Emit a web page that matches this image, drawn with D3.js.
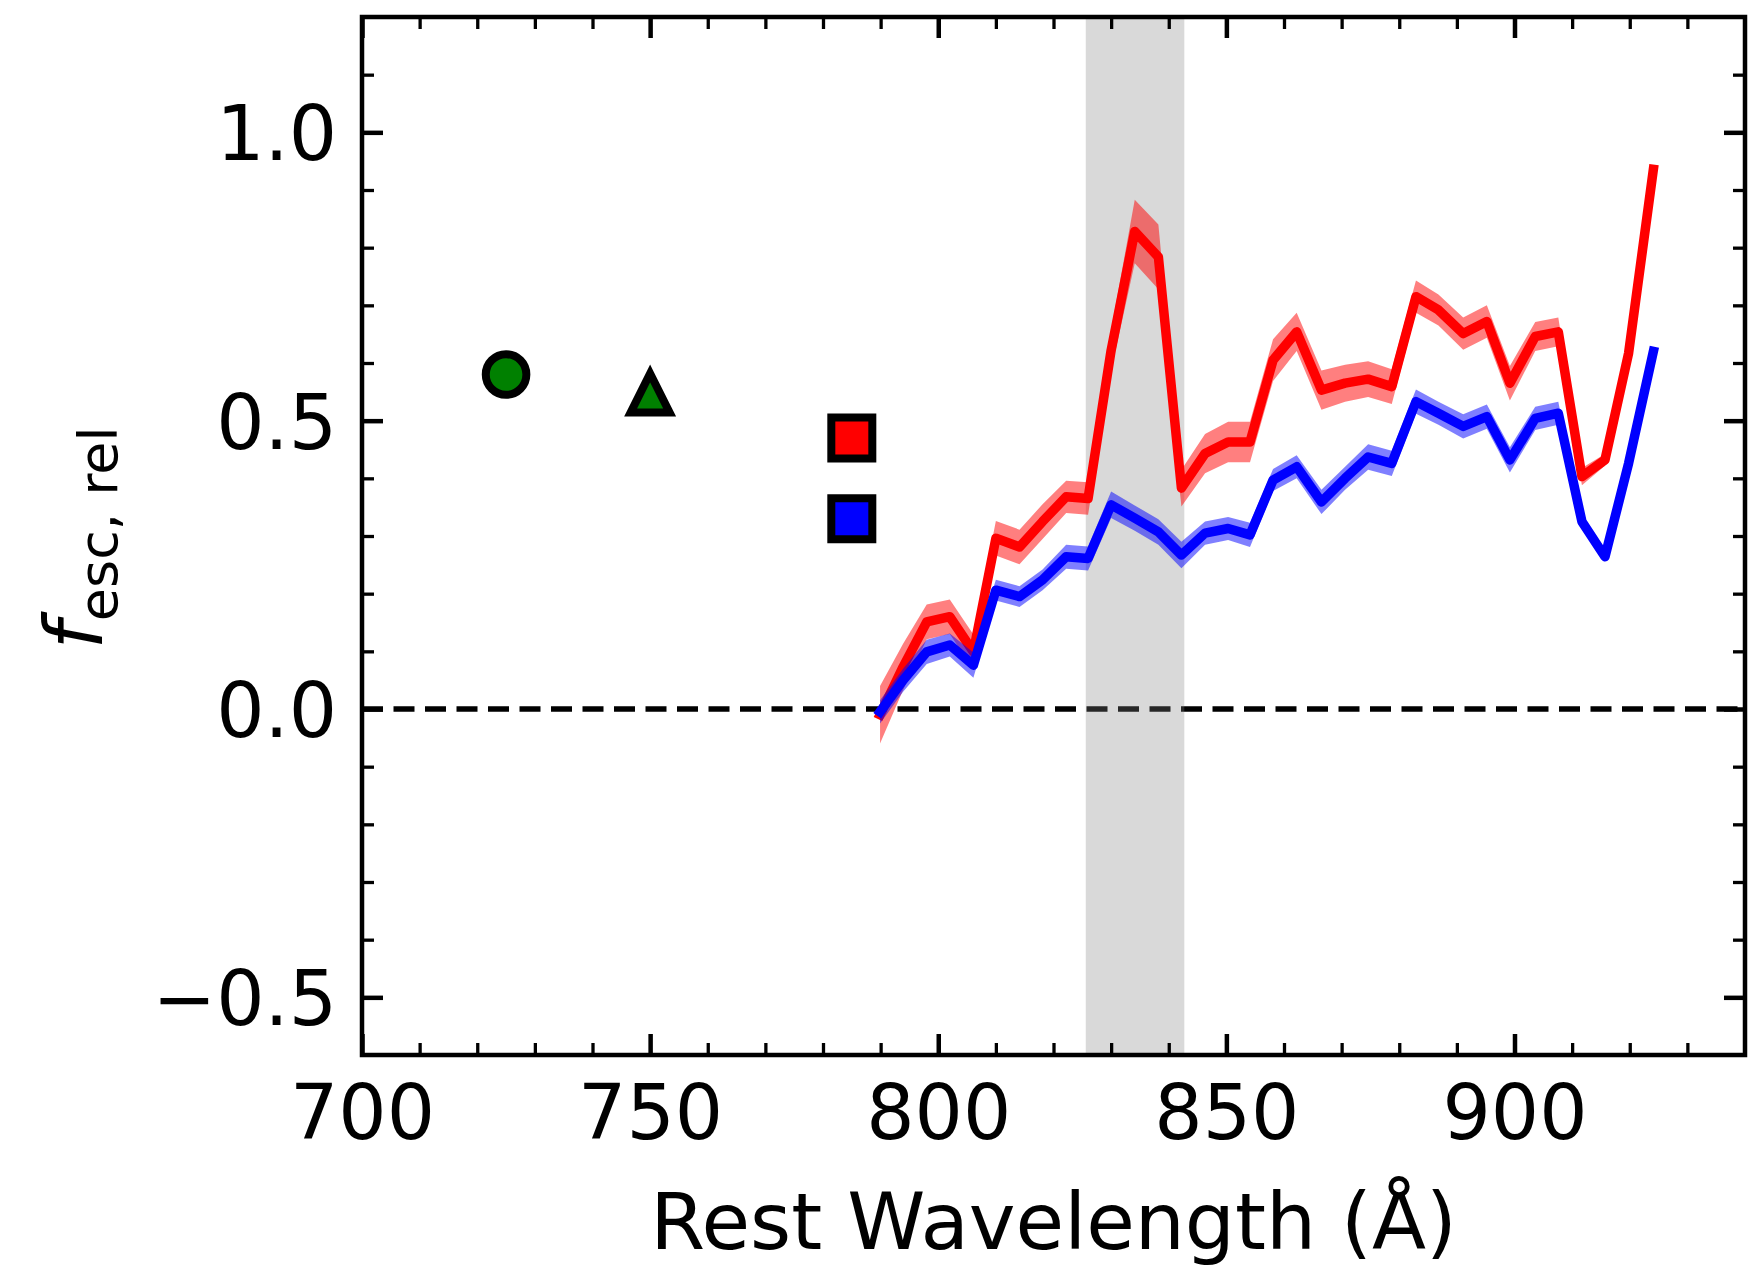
<!DOCTYPE html>
<html>
<head>
<meta charset="utf-8">
<script src="https://cdn.jsdelivr.net/npm/d3@7"></script>
<style>
  body { margin: 0; background: #fff; }
</style>
</head>
<body>
<div id="chart"></div>
<script>
// binned spectrum
let wavelength = [789.9, 793.9, 798.0, 802.0, 806.1, 810.0, 814.1, 818.1, 822.2, 826.0,
                  830.0, 834.1, 838.2, 842.2, 846.3, 850.3, 854.1, 858.1, 862.2, 866.5,
                  870.6, 874.6, 878.7, 882.9, 886.8, 891.1, 895.2, 899.2, 903.6, 907.6,
                  911.7, 915.7, 919.8, 924.1]
let fescRed = [-0.010, 0.073, 0.151, 0.160, 0.099, 0.296, 0.281, 0.325, 0.368, 0.365,
               0.622, 0.828, 0.784, 0.383, 0.443, 0.463, 0.463, 0.605, 0.654, 0.553,
               0.565, 0.572, 0.559, 0.715, 0.692, 0.651, 0.672, 0.565, 0.646, 0.654,
               0.403, 0.432, 0.617, 0.936]
let errRed = [0.050, 0.040, 0.030, 0.030, 0.030, 0.030, 0.030, 0.030, 0.028, 0.028,
              0.035, 0.055, 0.056, 0.032, 0.034, 0.035, 0.035, 0.036, 0.033, 0.034,
              0.032, 0.031, 0.030, 0.028, 0.027, 0.028, 0.028, 0.030, 0.025, 0.025,
              0.015, 0.010, 0.005, 0.004]
let fescBlue = [-0.005, 0.050, 0.099, 0.111, 0.076, 0.206, 0.195, 0.224, 0.264, 0.261,
                0.354, 0.331, 0.307, 0.267, 0.305, 0.313, 0.302, 0.397, 0.420, 0.359,
                0.400, 0.437, 0.426, 0.533, 0.513, 0.490, 0.507, 0.432, 0.504, 0.513,
                0.325, 0.264, 0.426, 0.620]
let errBlue = [0.020, 0.020, 0.021, 0.020, 0.022, 0.018, 0.018, 0.018, 0.021, 0.021,
               0.023, 0.022, 0.022, 0.023, 0.020, 0.020, 0.021, 0.019, 0.020, 0.021,
               0.020, 0.022, 0.022, 0.021, 0.020, 0.021, 0.021, 0.022, 0.020, 0.020,
               0.004, 0.004, 0.004, 0.004]

// single measurements
let pointWave = [725, 750, 785, 785]
let pointFesc = [0.580, 0.548, 0.470, 0.330]
let pointShape = ["circle", "triangle", "square", "square"]
let pointColor = ["#008000", "#008000", "#ff0000", "#0000ff"]

let bandRange = [825.6, 842.7]

let xMajor = [700, 750, 800, 850, 900]
let xMinor = [710, 720, 730, 740, 760, 770, 780, 790, 810, 820, 830, 840, 860, 870, 880, 890, 910, 920, 930]
let yMajor = [-0.5, 0.0, 0.5, 1.0]
let yMinor = [-0.4, -0.3, -0.2, -0.1, 0.1, 0.2, 0.3, 0.4, 0.6, 0.7, 0.8, 0.9, 1.1]

let width = 1748
let height = 1267
let pLeft = 362, pRight = 1745, pTop = 17, pBottom = 1055

let font = "DejaVu Sans"
let tick_font = 76
let label_font = 79
let major_len = 21, minor_len = 12

let x = d3.scaleLinear().domain([700, 940]).range([pLeft, pRight])
let y = d3.scaleLinear().domain([-0.6, 1.2]).range([pBottom, pTop])

let svg = d3.select("#chart").append("svg")
  .attr("width", width)
  .attr("height", height)
  .attr("viewBox", [0, 0, width, height])

svg.append("rect").attr("width", width).attr("height", height).attr("fill", "#fff")

// zero line
svg.append("line")
  .attr("x1", pLeft).attr("x2", pRight)
  .attr("y1", y(0)).attr("y2", y(0))
  .attr("stroke", "#000").attr("stroke-width", 5.5)
  .attr("stroke-dasharray", "21,10.5")

// shaded band
svg.append("rect")
  .attr("x", x(bandRange[0]))
  .attr("width", x(bandRange[1]) - x(bandRange[0]))
  .attr("y", pTop).attr("height", pBottom - pTop)
  .attr("fill", "#808080").attr("fill-opacity", 0.3)

let series = [
  {vals: fescRed, errs: errRed, color: "#ff0000"},
  {vals: fescBlue, errs: errBlue, color: "#0000ff"}
]

let area = d3.area()
  .x((d, i) => x(wavelength[i]))
  .y0(d => y(d.v - d.e))
  .y1(d => y(d.v + d.e))

let line = d3.line()
  .x((d, i) => x(wavelength[i]))
  .y(d => y(d))

series.forEach(s => {
  let pts = s.vals.map((v, i) => ({v: v, e: s.errs[i]}))
  svg.append("path")
    .attr("d", area(pts))
    .attr("fill", s.color).attr("fill-opacity", 0.5)
  svg.append("path")
    .attr("d", line(s.vals))
    .attr("fill", "none")
    .attr("stroke", s.color).attr("stroke-width", 9.5)
    .attr("stroke-linejoin", "round").attr("stroke-linecap", "square")
})

// markers
let triangleUp = {
  draw(ctx, size) {
    let h = Math.sqrt(size) / 2
    ctx.moveTo(0, -h); ctx.lineTo(h, h); ctx.lineTo(-h, h); ctx.closePath()
  }
}
let symbolType = {circle: d3.symbolCircle, square: d3.symbolSquare, triangle: triangleUp}
let symbolSize = {circle: Math.PI * 20.3 * 20.3, square: 41 * 41, triangle: 39 * 39}

svg.selectAll(".marker")
  .data(pointWave)
  .join("path")
  .attr("class", "marker")
  .attr("transform", (d, i) => `translate(${x(d)},${y(pointFesc[i])})`)
  .attr("d", (d, i) => d3.symbol().type(symbolType[pointShape[i]]).size(symbolSize[pointShape[i]])())
  .attr("fill", (d, i) => pointColor[i])
  .attr("stroke", "#000").attr("stroke-width", 8)
  .attr("stroke-linejoin", "miter")

// ticks on all four sides, pointing in
function styleAxis(g, w) {
  g.select(".domain").remove()
  g.selectAll(".tick line").attr("stroke", "#000").attr("stroke-width", w)
  g.selectAll("text")
    .attr("fill", "#000")
    .attr("font-family", font)
    .attr("font-size", tick_font)
}

svg.append("g").attr("transform", `translate(0,${pBottom})`)
  .call(d3.axisBottom(x).tickValues(xMinor).tickSize(-minor_len).tickFormat(""))
  .call(g => styleAxis(g, 3.3))
svg.append("g").attr("transform", `translate(0,${pBottom})`)
  .call(d3.axisBottom(x).tickValues(xMajor).tickSize(-major_len).tickPadding(30).tickFormat(d3.format("d")))
  .call(g => styleAxis(g, 4.5))
svg.append("g").attr("transform", `translate(0,${pTop})`)
  .call(d3.axisTop(x).tickValues(xMinor).tickSize(-minor_len).tickFormat(""))
  .call(g => styleAxis(g, 3.3))
svg.append("g").attr("transform", `translate(0,${pTop})`)
  .call(d3.axisTop(x).tickValues(xMajor).tickSize(-major_len).tickFormat(""))
  .call(g => styleAxis(g, 4.5))

svg.append("g").attr("transform", `translate(${pLeft},0)`)
  .call(d3.axisLeft(y).tickValues(yMinor).tickSize(-minor_len).tickFormat(""))
  .call(g => styleAxis(g, 3.3))
svg.append("g").attr("transform", `translate(${pLeft},0)`)
  .call(d3.axisLeft(y).tickValues(yMajor).tickSize(-major_len).tickPadding(25)
    .tickFormat(d => d < 0 ? "\u2212" + d3.format(".1f")(-d) : d3.format(".1f")(d)))
  .call(g => styleAxis(g, 4.5))
  .call(g => g.selectAll("text").attr("dy", "0.36em"))
svg.append("g").attr("transform", `translate(${pRight},0)`)
  .call(d3.axisRight(y).tickValues(yMinor).tickSize(-minor_len).tickFormat(""))
  .call(g => styleAxis(g, 3.3))
svg.append("g").attr("transform", `translate(${pRight},0)`)
  .call(d3.axisRight(y).tickValues(yMajor).tickSize(-major_len).tickFormat(""))
  .call(g => styleAxis(g, 4.5))

// frame
svg.append("rect")
  .attr("x", pLeft).attr("y", pTop)
  .attr("width", pRight - pLeft).attr("height", pBottom - pTop)
  .attr("fill", "none").attr("stroke", "#000").attr("stroke-width", 4.5)

// axis labels
svg.append("text")
  .attr("x", (pLeft + pRight) / 2).attr("y", 1249)
  .attr("text-anchor", "middle")
  .attr("font-family", font).attr("font-size", label_font)
  .attr("fill", "#000")
  .text("Rest Wavelength (Å)")

let ylab = svg.append("text")
  .attr("transform", `translate(101.7,538) rotate(-90)`)
  .attr("text-anchor", "middle")
  .attr("font-family", font)
  .attr("fill", "#000")
ylab.append("tspan").attr("font-size", 80).attr("font-style", "italic").text("f")
ylab.append("tspan").attr("font-size", 54).attr("dy", 15.6).text("esc, rel")
</script>
</body>
</html>
